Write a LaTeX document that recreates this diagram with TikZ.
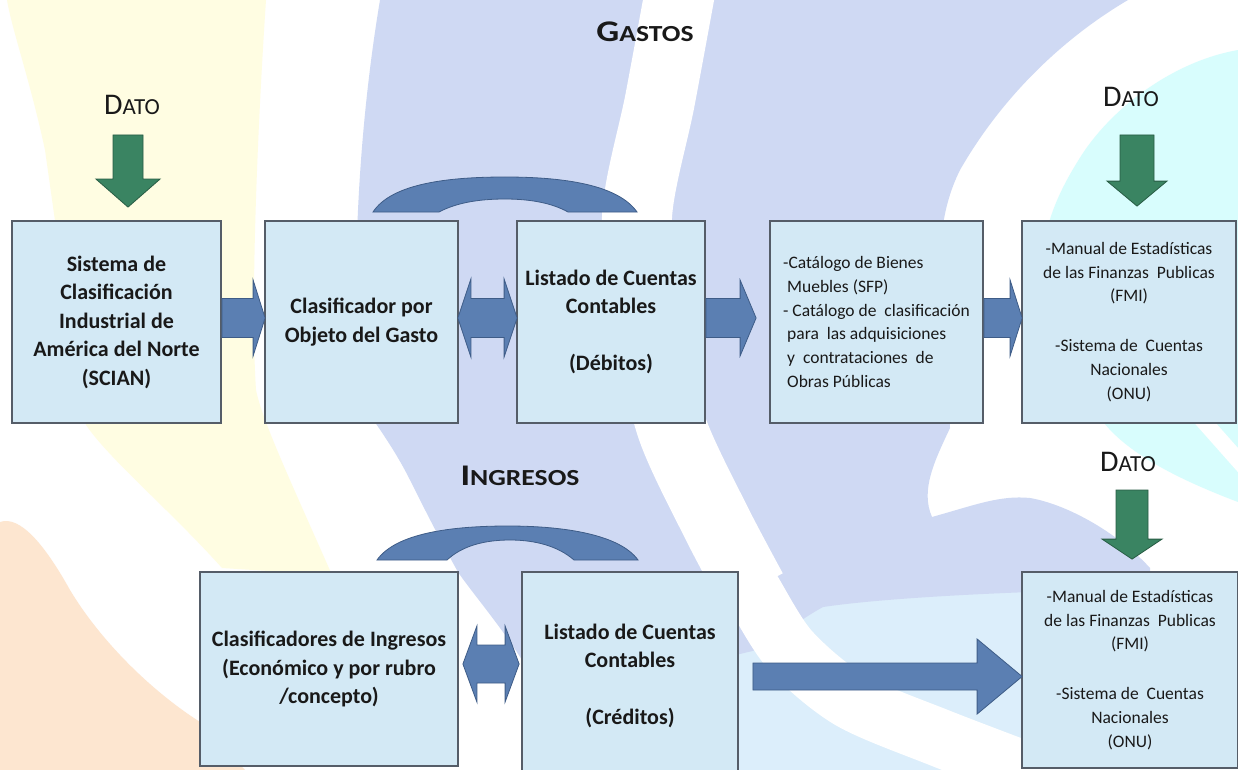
\documentclass[tikz,border=0pt]{standalone}
\usepackage{fontspec}
\setmainfont{Carlito}
\usepackage{graphicx}
\usetikzlibrary{calc}
\definecolor{bgyel}{RGB}{255,253,226}
\definecolor{bgpeach}{RGB}{253,230,208}
\definecolor{bglav}{RGB}{207,217,243}
\definecolor{bgcyan}{RGB}{216,253,253}
\definecolor{bglblue}{RGB}{220,238,251}
\definecolor{boxfill}{RGB}{211,233,245}
\definecolor{boxline}{RGB}{85,93,104}
\definecolor{arrblue}{RGB}{91,127,178}
\definecolor{arrblueline}{RGB}{62,92,135}
\definecolor{arrgreen}{RGB}{58,132,98}
\definecolor{arrgreenline}{RGB}{40,92,68}
\definecolor{txt}{RGB}{25,25,25}
\tikzset{
  box/.style={draw=boxline, line width=1.8pt, fill=boxfill, inner sep=0pt, text=txt},
  bigtxt/.style={font=\fontsize{22}{28.5}\selectfont\bfseries, align=center},
  smalltxt/.style={font=\fontsize{17.5}{23.8}\selectfont, align=center},
  barrow/.style={fill=arrblue, draw=arrblueline, line width=0.8pt, line join=miter},
  garrow/.style={fill=arrgreen, draw=arrgreenline, line width=0.8pt},
  lbl/.style={text=txt, inner sep=0pt, anchor=base},
}
\newcommand{\smcap}[2]{{\fontsize{30}{30}\selectfont #1}{\fontsize{23}{23}\selectfont #2}}
% right block arrow: start, tip, shaft half, head half, head length
\newcommand{\rblk}[5]{\draw[barrow] let \p1=(#1), \p2=(#2) in
  (\x1,\y1+#3pt) -- (\x2-#5pt,\y1+#3pt) -- (\x2-#5pt,\y1+#4pt) -- (\x2,\y1)
  -- (\x2-#5pt,\y1-#4pt) -- (\x2-#5pt,\y1-#3pt) -- (\x1,\y1-#3pt) -- cycle;}
% double block arrow: left tip, right tip, shaft half, head half, head length
\newcommand{\dblk}[5]{\draw[barrow] let \p1=(#1), \p2=(#2) in
  (\x1,\y1) -- (\x1+#5pt,\y1+#4pt) -- (\x1+#5pt,\y1+#3pt) -- (\x2-#5pt,\y1+#3pt)
  -- (\x2-#5pt,\y1+#4pt) -- (\x2,\y1) -- (\x2-#5pt,\y1-#4pt) -- (\x2-#5pt,\y1-#3pt)
  -- (\x1+#5pt,\y1-#3pt) -- (\x1+#5pt,\y1-#4pt) -- cycle;}
% down block arrow: top centre, tip, shaft half, head half, head length
\newcommand{\downblk}[5]{\draw[garrow] let \p1=(#1), \p2=(#2) in
  (\x1-#3pt,\y1) -- (\x1-#3pt,\y2+#5pt) -- (\x1-#4pt,\y2+#5pt) -- (\x1,\y2)
  -- (\x1+#4pt,\y2+#5pt) -- (\x1+#3pt,\y2+#5pt) -- (\x1+#3pt,\y1) -- cycle;}
\begin{document}
\begin{tikzpicture}[x=1pt,y=-1pt]
\useasboundingbox (0,0) rectangle (1238,770);
% ---------- background ----------
\fill[white] (0,0) rectangle (1238,770);
\fill[bgyel] (7,0) -- (266,0) .. controls (258,120) and (250,300) .. (256,390)
  .. controls (262,420) and (290,480) .. (332,575) -- (222,568)
  .. controls (170,510) and (110,460) .. (86,425)
  .. controls (70,330) and (55,220) .. (45,150) .. controls (30,80) and (12,30) .. (7,0) -- cycle;
\fill[bgpeach] (0,522) .. controls (20,515) and (45,545) .. (70,590)
  .. controls (100,640) and (150,690) .. (200,722) .. controls (220,740) and (235,760) .. (245,770)
  -- (0,770) -- cycle;
\fill[bglblue] (700,600) -- (1030,575) -- (1030,770) -- (700,770) -- cycle;
\fill[bglav] (380,0) -- (1128,0) .. controls (1060,40) and (1000,100) .. (960,170)
  .. controls (940,210) and (935,260) .. (945,330) -- (950,428)
  .. controls (935,460) and (920,490) .. (932,517)
  .. controls (975,505) and (1000,495) .. (1030,498)
  .. controls (1070,505) and (1120,535) .. (1150,568) -- (1150,580) -- (1030,592)
  .. controls (950,595) and (870,600) .. (823,607)
  .. controls (790,625) and (765,650) .. (748,652)
  .. controls (700,665) and (600,670) .. (522,660)
  .. controls (500,625) and (470,590) .. (458,572)
  .. controls (440,540) and (420,500) .. (410,480)
  .. controls (395,450) and (380,430) .. (360,400)
  .. controls (352,300) and (355,150) .. (380,0) -- cycle;
\draw[white, line width=70pt] plot[smooth] coordinates {(684,-30) (660,100) (637,217) (650,330) (672,428) (715,520) (752,590)};
\draw[white, line width=58pt] plot[smooth] coordinates {(735,560) (752,590) (790,650) (850,700) (940,738) (1045,778)};
\fill[bgcyan] (1238,50) .. controls (1180,60) and (1120,100) .. (1085,150)
  .. controls (1065,180) and (1050,210) .. (1045,240) -- (1045,423) -- (1238,423) -- cycle;
\fill[bgcyan] (1104,423) -- (1238,423) -- (1238,502) .. controls (1180,480) and (1130,455) .. (1104,423) -- cycle;
\draw[white, line width=16pt] (1198,415) -- (1245,468);
% ---------- boxes ----------
\node[box, bigtxt, minimum width=209pt, minimum height=202pt] (b1) at (116.5,322)
  {Sistema de\\Clasificación\\Industrial de\\América del Norte\\(SCIAN)};
\node[box, bigtxt, minimum width=193pt, minimum height=202pt] (b2) at (361.5,322)
  {Clasificador por\\Objeto del Gasto};
\node[box, bigtxt, minimum width=188pt, minimum height=202pt] (b3) at (611,322)
  {Listado de Cuentas\\Contables\\[28.5pt](Débitos)};
\node[box, smalltxt, align=left, minimum width=213pt, minimum height=202pt] (b4) at (876.5,322)
  {-Catálogo de Bienes\\\hspace*{4pt}Muebles (SFP)\\- Catálogo de\ \ clasificación\\\hspace*{4pt}para\ \ las adquisiciones\\\hspace*{4pt}y\ \ contrataciones\ \ de\\\hspace*{4pt}Obras Públicas};
\node[box, smalltxt, minimum width=214pt, minimum height=202pt] (b5) at (1129,322)
  {-Manual de Estadísticas\\de las Finanzas\ \ Publicas\\(FMI)\\[26pt]-Sistema de\ \ Cuentas\\Nacionales\\(ONU)};
\node[box, bigtxt, minimum width=258pt, minimum height=194pt] (b6) at (329,669)
  {Clasificadores de Ingresos\\(Económico y por rubro\\/concepto)};
\node[box, bigtxt, minimum width=216pt, minimum height=208pt] (b7) at (630,676)
  {Listado de Cuentas\\Contables\\[28.5pt](Créditos)};
\node[box, smalltxt, minimum width=216pt, minimum height=196pt] (b8) at (1130,670)
  {-Manual de Estadísticas\\de las Finanzas\ \ Publicas\\(FMI)\\[26pt]-Sistema de\ \ Cuentas\\Nacionales\\(ONU)};
% ---------- labels ----------
\node[lbl] (gastos) at (645,42) {\scalebox{1.2}[1]{\bfseries\smcap{G}{ASTOS}}};
\node[lbl] (ingresos) at (520,485) {\scalebox{1.2}[1]{\bfseries\smcap{I}{NGRESOS}}};
\node[lbl] (dato1) at (132,115) {\smcap{D}{ATO}};
\node[lbl] (dato2) at (1131,107) {\smcap{D}{ATO}};
\node[lbl] (dato3) at (1128,471) {\smcap{D}{ATO}};
% ---------- green arrows ----------
\downblk{$(dato1.base)+(-4,20)$}{$(b1.north)+(11.5,-13)$}{15}{32}{28}
\downblk{$(dato2.base)+(6,28)$}{$(b5.north)+(8,-14)$}{17}{30}{25}
\downblk{$(dato3.base)+(4,19)$}{$(b8.north)+(2,-12)$}{16}{30}{20}
% ---------- blue arrows ----------
\rblk{$(b1.east)+(0,-4)$}{$(b2.west)+(1,-4)$}{19.5}{38}{12}
\dblk{$(b2.east)+(-1,-4)$}{$(b3.west)+(1,-4)$}{19.5}{39}{13}
\rblk{$(b3.east)+(0,-4)$}{$(b4.west)+(-13,-4)$}{19.5}{38}{16}
\rblk{$(b4.east)+(0,-4)$}{$(b5.west)+(1,-4)$}{19.5}{38}{12}
\dblk{$(b6.east)+(4,-5)$}{$(b7.west)+(-2,-5)$}{19}{38}{14}
\rblk{$(b7.east)+(14,0.5)$}{$(b8.west)+(1,0.5)$}{13.5}{37.5}{45}
% ---------- arches ----------
\draw[barrow] (373,212) .. controls (392,183) and (450,177) .. (505,177)
  .. controls (565,177) and (618,185) .. (637,212) -- (568,212)
  .. controls (552,203) and (530,199) .. (505,199)
  .. controls (478,199) and (456,203) .. (439,212) -- cycle;
\draw[barrow] (377,560) .. controls (396,533) and (452,526) .. (508,526)
  .. controls (566,526) and (620,535) .. (638,560) -- (574,560)
  .. controls (558,546) and (535,540) .. (510,540)
  .. controls (484,540) and (462,546) .. (447,560) -- cycle;
\end{tikzpicture}
\end{document}
